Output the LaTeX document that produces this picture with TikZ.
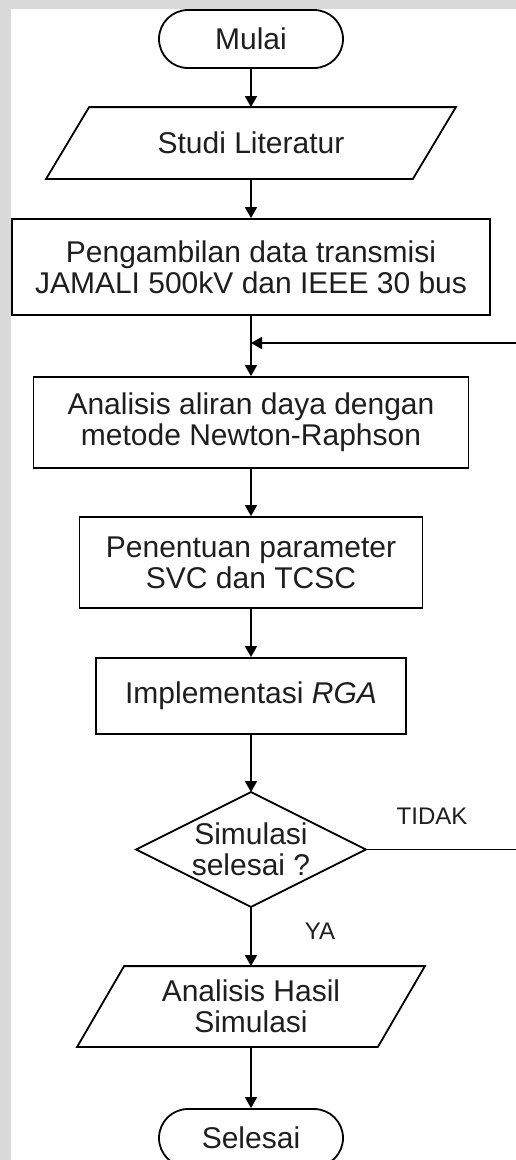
\documentclass[tikz,border=0pt]{standalone}
\usepackage{fontspec}
\setmainfont{Liberation Sans}
\usetikzlibrary{arrows.meta,shapes.misc,calc}
\definecolor{bggray}{RGB}{217,217,217}
\definecolor{ink}{RGB}{30,30,30}
\begin{document}
\begin{tikzpicture}[x=1pt,y=-1pt,
  line width=1.8pt,
  every node/.style={font=\fontsize{30}{31}\selectfont, text=ink, align=center, inner sep=0pt},
  term/.style={draw, rounded rectangle, minimum width=184pt, minimum height=58pt},
  proc/.style={draw, rectangle},
  io/.style={rectangle},
  lbl/.style={font=\fontsize{24}{26}\selectfont},
  arr/.style={-{Triangle[width=12pt,length=11pt]}}
]
\useasboundingbox (0,0) rectangle (516,1160);
\clip (0,0) rectangle (516,1160);
\fill[bggray] (0,0) rectangle (516,1160);
\fill[white] (11,9) rectangle (516,1160);

\node[term] (mulai) at (251,39) {Mulai};
\node[io, minimum width=365pt, minimum height=70pt] (studi) at (251,143) {Studi Literatur};
\draw ($(studi.north west)+(21.5,0)$) -- ($(studi.north east)+(21.5,0)$) -- ($(studi.south east)+(-21.5,0)$) -- ($(studi.south west)+(-21.5,0)$) -- cycle;
\node[proc, minimum width=478pt, minimum height=96pt] (peng) at (251,267) {Pengambilan data transmisi\\JAMALI 500kV dan IEEE 30 bus};
\node[proc, minimum width=435pt, minimum height=91pt] (anal) at (251,422.5) {Analisis aliran daya dengan\\metode Newton-Raphson};
\node[proc, minimum width=343pt, minimum height=91pt] (pen) at (251,562.5) {Penentuan parameter\\SVC dan TCSC};
\node[proc, minimum width=310pt, minimum height=76pt] (impl) at (251,696) {Implementasi \textit{RGA}};
\node[minimum width=228pt, minimum height=113pt] (dec) at (251,849.5) {Simulasi\\selesai ?};
\draw (dec.north) -- (dec.east) -- (dec.south) -- (dec.west) -- cycle;
\node[io, minimum width=299pt, minimum height=79pt] (hasil) at (251,1006.5) {Analisis Hasil\\Simulasi};
\draw ($(hasil.north west)+(23.5,0)$) -- ($(hasil.north east)+(23.5,0)$) -- ($(hasil.south east)+(-23.5,0)$) -- ($(hasil.south west)+(-23.5,0)$) -- cycle;
\node[term] (selesai) at (251,1138) {Selesai};

\node[lbl] (tidak) at (432,816) {TIDAK};
\node[lbl] (ya) at (320,931) {YA};

\coordinate (fbR) at (516,343);
\coordinate (fbJ) at (251,343);
\coordinate (noR) at (516,849.5);

\draw[arr] (mulai) -- (studi);
\draw[arr] (studi) -- (peng);
\draw[arr] (peng) -- (anal);
\draw[arr] (fbR) -- (fbJ);
\draw[arr] (anal) -- (pen);
\draw[arr] (pen) -- (impl);
\draw[arr] (impl) -- (dec);
\draw (dec.east) -- (noR);
\draw[arr] (dec) -- (hasil);
\draw[arr] (hasil) -- (selesai);
\end{tikzpicture}
\end{document}
